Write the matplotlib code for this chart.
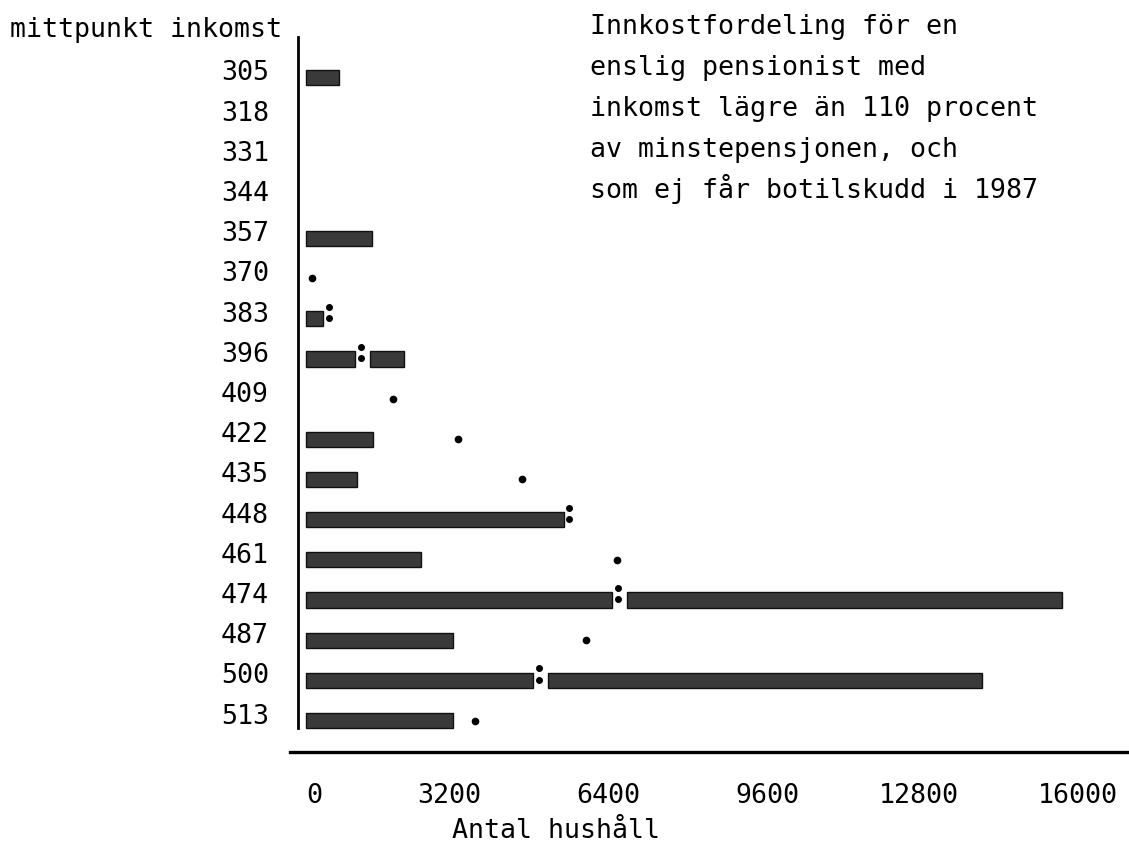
import numpy as np
import matplotlib.pyplot as plt
from matplotlib.transforms import ScaledTranslation, blended_transform_factory

# Income midpoints (rows) and number of households
incomes = [305, 318, 331, 344, 357, 370, 383, 396, 409,
           422, 435, 448, 461, 474, 487, 500, 513]
households = [660, 0, 0, 0, 1330, 0, 340, 1970, 0,
              1350, 1020, 5190, 2310, 15200, 2960, 13590, 2960]
# Dot series (printed '.' / ':' in the original listing)
fitted = [np.nan, np.nan, np.nan, np.nan, np.nan, 120, 460, 1110, 1750,
          3060, 4340, 5290, 6250, 6270, 5630, 4680, 3400]

x_ticks = [0, 3200, 6400, 9600, 12800, 16000]
title_lines = ["Innkostfordeling för en",
               "enslig pensionist med",
               "inkomst lägre än 110 procent",
               "av minstepensjonen, och",
               "som ej får botilskudd i 1987"]

plt.rcParams['font.family'] = ['DejaVu Sans Mono', 'DejaVu Sans']
plt.rcParams['font.size'] = 19.2

bar_color = '#3a3a3a'
W, H = 1129, 843
fig = plt.figure(figsize=(W / 100, H / 100), dpi=100)
ax = fig.add_axes([298 / W, 1 - 752 / H, (W - 298) / W, (752 - 35) / H])

rows = np.arange(len(incomes))
bar_h = 0.38

# split the bar where the dot falls inside it, like the printer did
for i, (v, d) in enumerate(zip(households, fitted)):
    if v > 0 and not np.isnan(d) and d < v:
        ax.barh(i, d - 120, left=0, height=bar_h, color=bar_color,
                edgecolor='#111111', linewidth=1)
        ax.barh(i, v - (d + 180), left=d + 180, height=bar_h,
                color=bar_color, edgecolor='#111111', linewidth=1)
    elif v > 0:
        ax.barh(i, v, left=0, height=bar_h, color=bar_color,
                edgecolor='#111111', linewidth=1)
    if np.isnan(d):
        continue
    if v > 0 and d < v + 250:
        # colon
        ax.plot([d, d], [i - 0.3, i - 0.02], 'o', color='black',
                markersize=4, linestyle='none')
    else:
        ax.plot(d, i, 'o', color='black', markersize=4.5)

ax.set_xlim(-161, 16543)
ax.set_ylim(16.78, -1.057)

for s in ax.spines.values():
    s.set_visible(False)

# axis lines
trans = blended_transform_factory(ax.transAxes, ax.transData)
ax.plot([0, 0], [-1.0, 16.18], color='black', lw=2.0, transform=trans,
        clip_on=False)
ax.plot([-8 / 831, 1], [0, 0], color='black', lw=2.4,
        transform=ax.transAxes, clip_on=False)

ax.set_yticks(rows)
ax.set_yticklabels([str(v) for v in incomes])
ax.tick_params(axis='y', length=0, pad=21)
for lab in ax.get_yticklabels():
    lab.set_transform(lab.get_transform() +
                      ScaledTranslation(0, 0.07, fig.dpi_scale_trans))

ax.set_xticks(x_ticks)
ax.set_xticklabels([str(v) for v in x_ticks], ha='right')
ax.tick_params(axis='x', length=0, pad=22)
for lab in ax.get_xticklabels():
    lab.set_transform(lab.get_transform() +
                      ScaledTranslation(0.16, 0, fig.dpi_scale_trans))

fig.text(452 / W, 1 - 838 / H, 'Antal hushåll', ha='left', va='baseline')
fig.text(10 / W, 1 - 37 / H, 'mittpunkt inkomst', ha='left', va='baseline')

for k, line in enumerate(title_lines):
    fig.text(590 / W, 1 - (34 + 41 * k) / H, line, ha='left', va='baseline')

fig.savefig('out.png', dpi=100)
